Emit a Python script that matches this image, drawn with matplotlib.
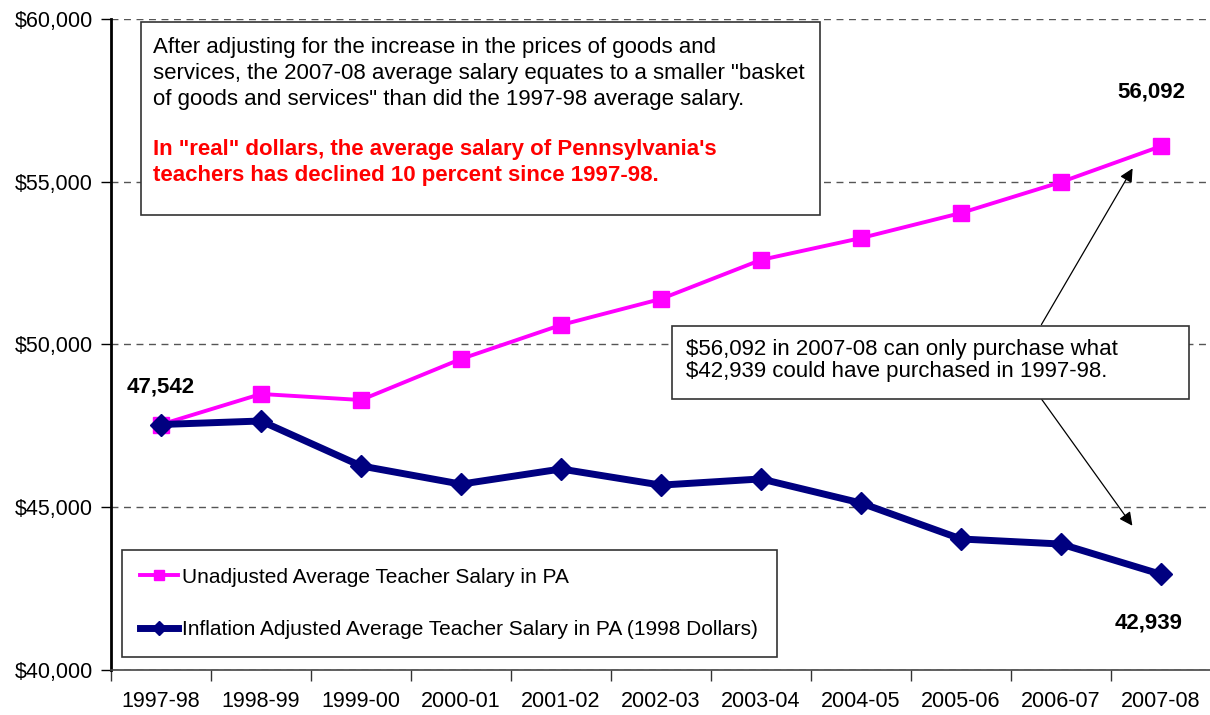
import matplotlib.pyplot as plt
import matplotlib.patches as patches
import numpy as np

plt.rcParams['font.family'] = ['Liberation Sans', 'DejaVu Sans']

# data
years = ['1997-98', '1998-99', '1999-00', '2000-01', '2001-02', '2002-03',
         '2003-04', '2004-05', '2005-06', '2006-07', '2007-08']
unadjusted = [47542, 48480, 48295, 49555, 50600, 51400, 52600, 53270, 54040, 54990, 56092]
adjusted = [47542, 47650, 46270, 45710, 46175, 45680, 45870, 45130, 44025, 43870, 42939]
y_ticks = [40000, 45000, 50000, 55000, 60000]

note_lines = ['After adjusting for the increase in the prices of goods and',
              'services, the 2007-08 average salary equates to a smaller "basket',
              'of goods and services" than did the 1997-98 average salary.']
red_lines = ['In "real" dollars, the average salary of Pennsylvania\'s',
             'teachers has declined 10 percent since 1997-98.']
box2_lines = ['$56,092 in 2007-08 can only purchase what',
              '$42,939 could have purchased in 1997-98.']

W, H = 1210, 715


def fx(px):
    return px / W


def fy(py):
    return 1 - py / H


fig = plt.figure(figsize=(12.1, 7.15), dpi=100)
ax = fig.add_axes([fx(111), fy(670), fx(1211) - fx(111), fy(19) - fy(670)])

x = np.arange(len(years))
ax.plot(x, unadjusted, color='#FF00FF', lw=2.8, marker='s', ms=11,
        label='Unadjusted Average Teacher Salary in PA', zorder=3)
ax.plot(x, adjusted, color='#000080', lw=5, marker='D', ms=11,
        label='Inflation Adjusted Average Teacher Salary in PA (1998 Dollars)', zorder=4)

ax.set_xlim(-0.5, len(years) - 0.5)
ax.set_ylim(40000, 60000)
ax.set_yticks(y_ticks)
ax.set_yticklabels(['${:,}'.format(v) for v in y_ticks], fontsize=15.5)
ax.yaxis.grid(True, ls=(0, (5, 4)), color='#555555', lw=1)
ax.set_axisbelow(True)

# category labels centered, ticks on the boundaries
ax.set_xticks(np.arange(-0.5, len(years) + 0.5, 1))
ax.set_xticklabels([])
ax.set_xticks(x, minor=True)
ax.set_xticklabels(years, minor=True, fontsize=15.5)
ax.tick_params(axis='x', which='minor', length=0, pad=15)
ax.tick_params(axis='x', which='major', length=8, color='#333333', width=1)
ax.tick_params(axis='y', length=7, width=1, pad=6)

for s in ['top', 'right']:
    ax.spines[s].set_visible(False)
ax.spines['left'].set_linewidth(2)
ax.spines['left'].set_color('black')
ax.spines['bottom'].set_color('#444444')
ax.spines['bottom'].set_linewidth(1.2)

# value labels
ax.text(0, 48700, '47,542', ha='center', va='center', fontsize=16, fontweight='bold')
ax.text(9.9, 57750, '56,092', ha='center', va='center', fontsize=16, fontweight='bold')
ax.text(9.88, 41450, '42,939', ha='center', va='center', fontsize=16, fontweight='bold')

# top note box
fig.patches.append(patches.Rectangle((fx(141), fy(215)), fx(820) - fx(141), fy(22) - fy(215),
                                     transform=fig.transFigure, fill=True, facecolor='white',
                                     edgecolor='#333333', lw=1.2, zorder=5))
for i, line in enumerate(note_lines):
    fig.text(fx(153), fy(47 + 26 * i), line, ha='left', va='center', fontsize=16,
             color='black', zorder=6)
for i, line in enumerate(red_lines):
    fig.text(fx(153), fy(149 + 26 * i), line, ha='left', va='center', fontsize=16,
             fontweight='bold', color='#FF0000', zorder=6)

# second note box
fig.patches.append(patches.Rectangle((fx(672), fy(399)), fx(1189) - fx(672), fy(326) - fy(399),
                                     transform=fig.transFigure, fill=True, facecolor='white',
                                     edgecolor='#333333', lw=1.2, zorder=5))
for i, line in enumerate(box2_lines):
    fig.text(fx(686), fy(349 + 23 * i), line, ha='left', va='center', fontsize=16, zorder=6)

# arrows
ax.annotate('', xy=(9.73, 55484), xytext=(8.79, 50538),
            arrowprops=dict(arrowstyle='-|>', color='black', lw=0.9, mutation_scale=20))
ax.annotate('', xy=(9.73, 44363), xytext=(8.79, 48387),
            arrowprops=dict(arrowstyle='-|>', color='black', lw=0.9, mutation_scale=20))

leg = ax.legend(loc='upper left',
                bbox_to_anchor=(fx(122), fy(657), fx(777) - fx(122), fy(550) - fy(657)),
                bbox_transform=fig.transFigure, mode='expand', fancybox=False,
                edgecolor='#333333', framealpha=1, fontsize=15, labelspacing=1.6,
                borderpad=0.85, handlelength=1.83, handletextpad=0.2, borderaxespad=0)
leg.get_frame().set_linewidth(1.2)
for h in leg.get_lines():
    h.set_markersize(7)

fig.savefig('out.png', dpi=100)
